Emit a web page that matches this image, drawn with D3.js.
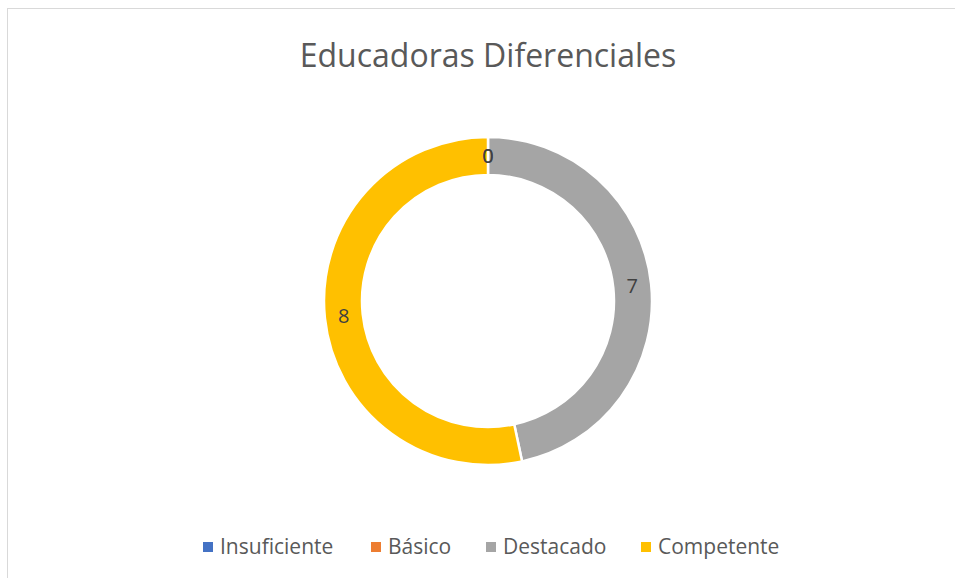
<!DOCTYPE html>
<html>
<head>
<meta charset="utf-8">
<script src="https://cdn.jsdelivr.net/npm/d3@7"></script>
<style>
  body { margin: 0; background: #fff; }
  text { font-family: "Open Sans", "Liberation Sans", sans-serif; fill: #595959; }
</style>
</head>
<body>
<script>
var width = 955, height = 578;

// data
var categories = ["Insuficiente", "Básico", "Destacado", "Competente"];
var values = [0, 0, 7, 8];
var colors = ["#4472C4", "#ED7D31", "#A5A5A5", "#FFC000"];

var data = categories.map(function(c, i) { return {name: c, value: values[i]}; });

var svg = d3.select("body").append("svg")
    .attr("width", width)
    .attr("height", height);

// chart area frame
svg.append("rect")
    .attr("x", 7.5).attr("y", 8.5)
    .attr("width", 960).attr("height", 600)
    .style("fill", "none")
    .style("stroke", "#d9d9d9")
    .style("stroke-width", 1);

// title
svg.append("text")
    .attr("x", 488).attr("y", 67)
    .attr("text-anchor", "middle")
    .style("font-size", "32px")
    .text("Educadoras Diferenciales");

var color = d3.scaleOrdinal().domain(categories).range(colors);

var cx = 488, cy = 301, outerR = 164, innerR = 126;

var pie = d3.pie().sort(null).value(function(d) { return d.value; });
var arc = d3.arc().innerRadius(innerR).outerRadius(outerR);
var labelArc = d3.arc().innerRadius(innerR + 2).outerRadius(outerR - 2);

var g = svg.append("g")
    .attr("transform", "translate(" + cx + "," + cy + ")");

g.selectAll(".slice")
  .data(pie(data))
  .enter().append("path")
    .attr("class", "slice")
    .attr("d", arc)
    .style("fill", function(d) { return color(d.data.name); })
    .style("stroke", "#fff")
    .style("stroke-width", 2.5);

g.selectAll(".lbl")
  .data(pie(data))
  .enter().append("text")
    .attr("class", "lbl")
    .attr("transform", function(d) { return "translate(" + labelArc.centroid(d) + ")"; })
    .attr("text-anchor", "middle")
    .attr("dy", "0.35em")
    .style("font-size", "20px")
    .style("fill", "#404040")
    .text(function(d) { return d.data.value; });

// legend
var legendX = [203, 371, 486, 641];
var legend = svg.selectAll(".legend")
  .data(data)
  .enter().append("g")
    .attr("class", "legend")
    .attr("transform", function(d, i) { return "translate(" + legendX[i] + ",547)"; });

legend.append("rect")
    .attr("x", 0).attr("y", -5)
    .attr("width", 10).attr("height", 10)
    .style("fill", function(d) { return color(d.name); });

legend.append("text")
    .attr("x", 17).attr("dy", "0.35em")
    .style("font-size", "21px")
    .text(function(d) { return d.name; });
</script>
</body>
</html>
